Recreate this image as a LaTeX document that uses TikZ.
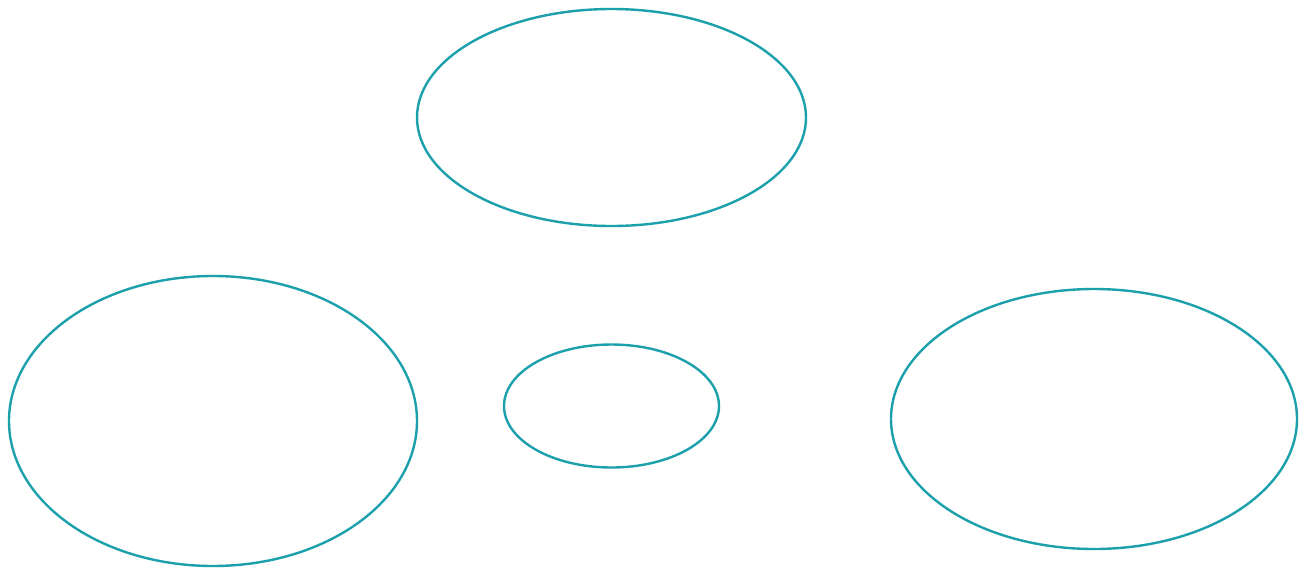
\documentclass[tikz,border=0pt]{standalone}
\usetikzlibrary{shapes.geometric}
\definecolor{tealline}{RGB}{28,160,172}
\tikzset{
  ell/.style={ellipse, draw=tealline, line width=2.4pt, inner sep=0pt, fill=none}
}
\begin{document}
\begin{tikzpicture}[x=1pt,y=-1pt]
\useasboundingbox (0,0) rectangle (1314,587);
\fill[white] (0,0) rectangle (1314,587);
\node[ell, minimum width=389pt, minimum height=217pt] (top) at (611.5,117.5) {};
\node[ell, minimum width=408pt, minimum height=290pt] (left) at (213,421) {};
\node[ell, minimum width=215pt, minimum height=123pt] (mid) at (611.5,406) {};
\node[ell, minimum width=406pt, minimum height=260pt] (right) at (1094,419) {};
\end{tikzpicture}
\end{document}
